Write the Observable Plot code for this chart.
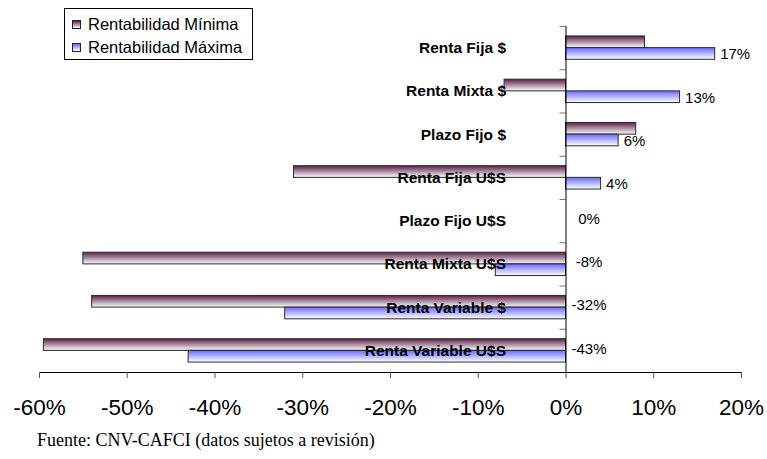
<!DOCTYPE html>
<html><head><meta charset="utf-8">
<script src="https://cdn.jsdelivr.net/npm/d3@7"></script>
<script src="https://cdn.jsdelivr.net/npm/@observablehq/plot@0.6"></script>
<style>
body{margin:0;background:#fff;font-family:"Liberation Sans",Arial,sans-serif;}
#wrap{position:relative;width:767px;height:459px;overflow:hidden;}
#legend{position:absolute;left:64px;top:8px;width:187px;height:50px;border:1px solid #000;background:#fff;font-size:16.5px;color:#000;}
.row{position:absolute;left:0;height:20px;line-height:20px;white-space:nowrap;}
.sw{position:absolute;left:7px;top:6px;width:7px;height:7px;border:1px solid #222;}
.lbl{position:absolute;left:23px;top:0;}
#caption{position:absolute;left:37px;top:430px;font-family:"Liberation Serif","Times New Roman",serif;font-size:18px;line-height:20px;color:#000;white-space:nowrap;}
</style></head>
<body>
<div id="wrap">
  <div id="chart"></div>
  <div id="legend"></div>
  <div id="caption"></div>
</div>
<script>
const categories = ["Renta Fija $","Renta Mixta $","Plazo Fijo $","Renta Fija U$S","Plazo Fijo U$S","Renta Mixta U$S","Renta Variable $","Renta Variable U$S"];
const rentMin = [9, -7, 8, -31, 0, -55, -54, -59.5];
const rentMax = [17, 13, 6, 4, 0, -8, -32, -43];
const seriesNames = ["Rentabilidad Mínima","Rentabilidad Máxima"];
const xTicks = [-60,-50,-40,-30,-20,-10,0,10,20];
const captionText = "Fuente: CNV-CAFCI (datos sujetos a revisión)";

const minTop = "#5a1e46", maxTop = "#6a6aff";

const rows = categories.map((c,i)=>({c, i, min: rentMin[i], max: rentMax[i]}));
const bounds = d3.range(categories.length + 1);

const chart = Plot.plot({
  width: 767,
  height: 422,
  marginLeft: 39,
  marginRight: 26,
  marginTop: 26,
  marginBottom: 50,
  style: {fontFamily: '"Liberation Sans", Arial, sans-serif', background: "#fff", color: "#000"},
  x: {domain: [-60, 20], axis: null},
  y: {domain: [0, categories.length], reverse: true, axis: null},
  marks: [
    Plot.rectX(rows.filter(d=>d.min!==0), {x1: 0, x2: "min", y1: d=>d.i+0.23, y2: d=>d.i+0.5, fill: "url(#gMin)", stroke: "#2a2a2a", strokeWidth: 1}),
    Plot.rectX(rows.filter(d=>d.max!==0), {x1: 0, x2: "max", y1: d=>d.i+0.5, y2: d=>d.i+0.77, fill: "url(#gMax)", stroke: "#2a2a2a", strokeWidth: 1}),
    Plot.ruleY(bounds, {y: d=>d, x1: 0, x2: 0, insetLeft: -6, stroke: "#777"}),
    Plot.ruleX([0], {y1: 0, y2: categories.length, stroke: "#000"}),
    Plot.ruleY([categories.length], {stroke: "#000"}),
    Plot.axisX({ticks: xTicks, tickSize: 6, tickPadding: 21, tickFormat: d=>d+"%", fontSize: 22.5, stroke: "#555", color: "#000"}),
    Plot.text(rows.filter(d=>d.max>0), {x: "max", y: d=>d.i+0.65, text: d=>d.max+"%", textAnchor: "start", dx: 5, fontSize: 15, fill: "#000"}),
    Plot.text(rows.filter(d=>d.max<=0), {x: 0, y: d=>d.i+0.45, text: d=>d.max+"%", textAnchor: "middle", dx: 23, fontSize: 15, fill: "#000"}),
    Plot.text(rows, {x: 0, y: d=>d.i+0.5, text: "c", textAnchor: "end", dx: -60, fontSize: 15.5, fontWeight: "bold", fill: "#000"})
  ]
});

// gradient definitions
const ns = "http://www.w3.org/2000/svg";
const defs = document.createElementNS(ns, "defs");
[["gMin", minTop], ["gMax", maxTop]].forEach(([id, col]) => {
  const g = document.createElementNS(ns, "linearGradient");
  g.setAttribute("id", id);
  g.setAttribute("x1", "0"); g.setAttribute("y1", "0");
  g.setAttribute("x2", "0"); g.setAttribute("y2", "1");
  [[0, col], [1, "#ffffff"]].forEach(([o, c]) => {
    const s = document.createElementNS(ns, "stop");
    s.setAttribute("offset", o);
    s.setAttribute("stop-color", c);
    g.appendChild(s);
  });
  defs.appendChild(g);
});
chart.insertBefore(defs, chart.firstChild);
document.getElementById("chart").appendChild(chart);

// legend
const legend = document.getElementById("legend");
[[seriesNames[0], minTop], [seriesNames[1], maxTop]].forEach(([name, col], k) => {
  const r = document.createElement("div");
  r.className = "row";
  r.style.top = (5 + k * 23) + "px";
  const sw = document.createElement("div");
  sw.className = "sw";
  sw.style.background = `linear-gradient(to bottom, ${col}, #ffffff)`;
  const l = document.createElement("div");
  l.className = "lbl";
  l.textContent = name;
  r.appendChild(sw); r.appendChild(l);
  legend.appendChild(r);
});
document.getElementById("caption").textContent = captionText;
</script>
</body></html>
